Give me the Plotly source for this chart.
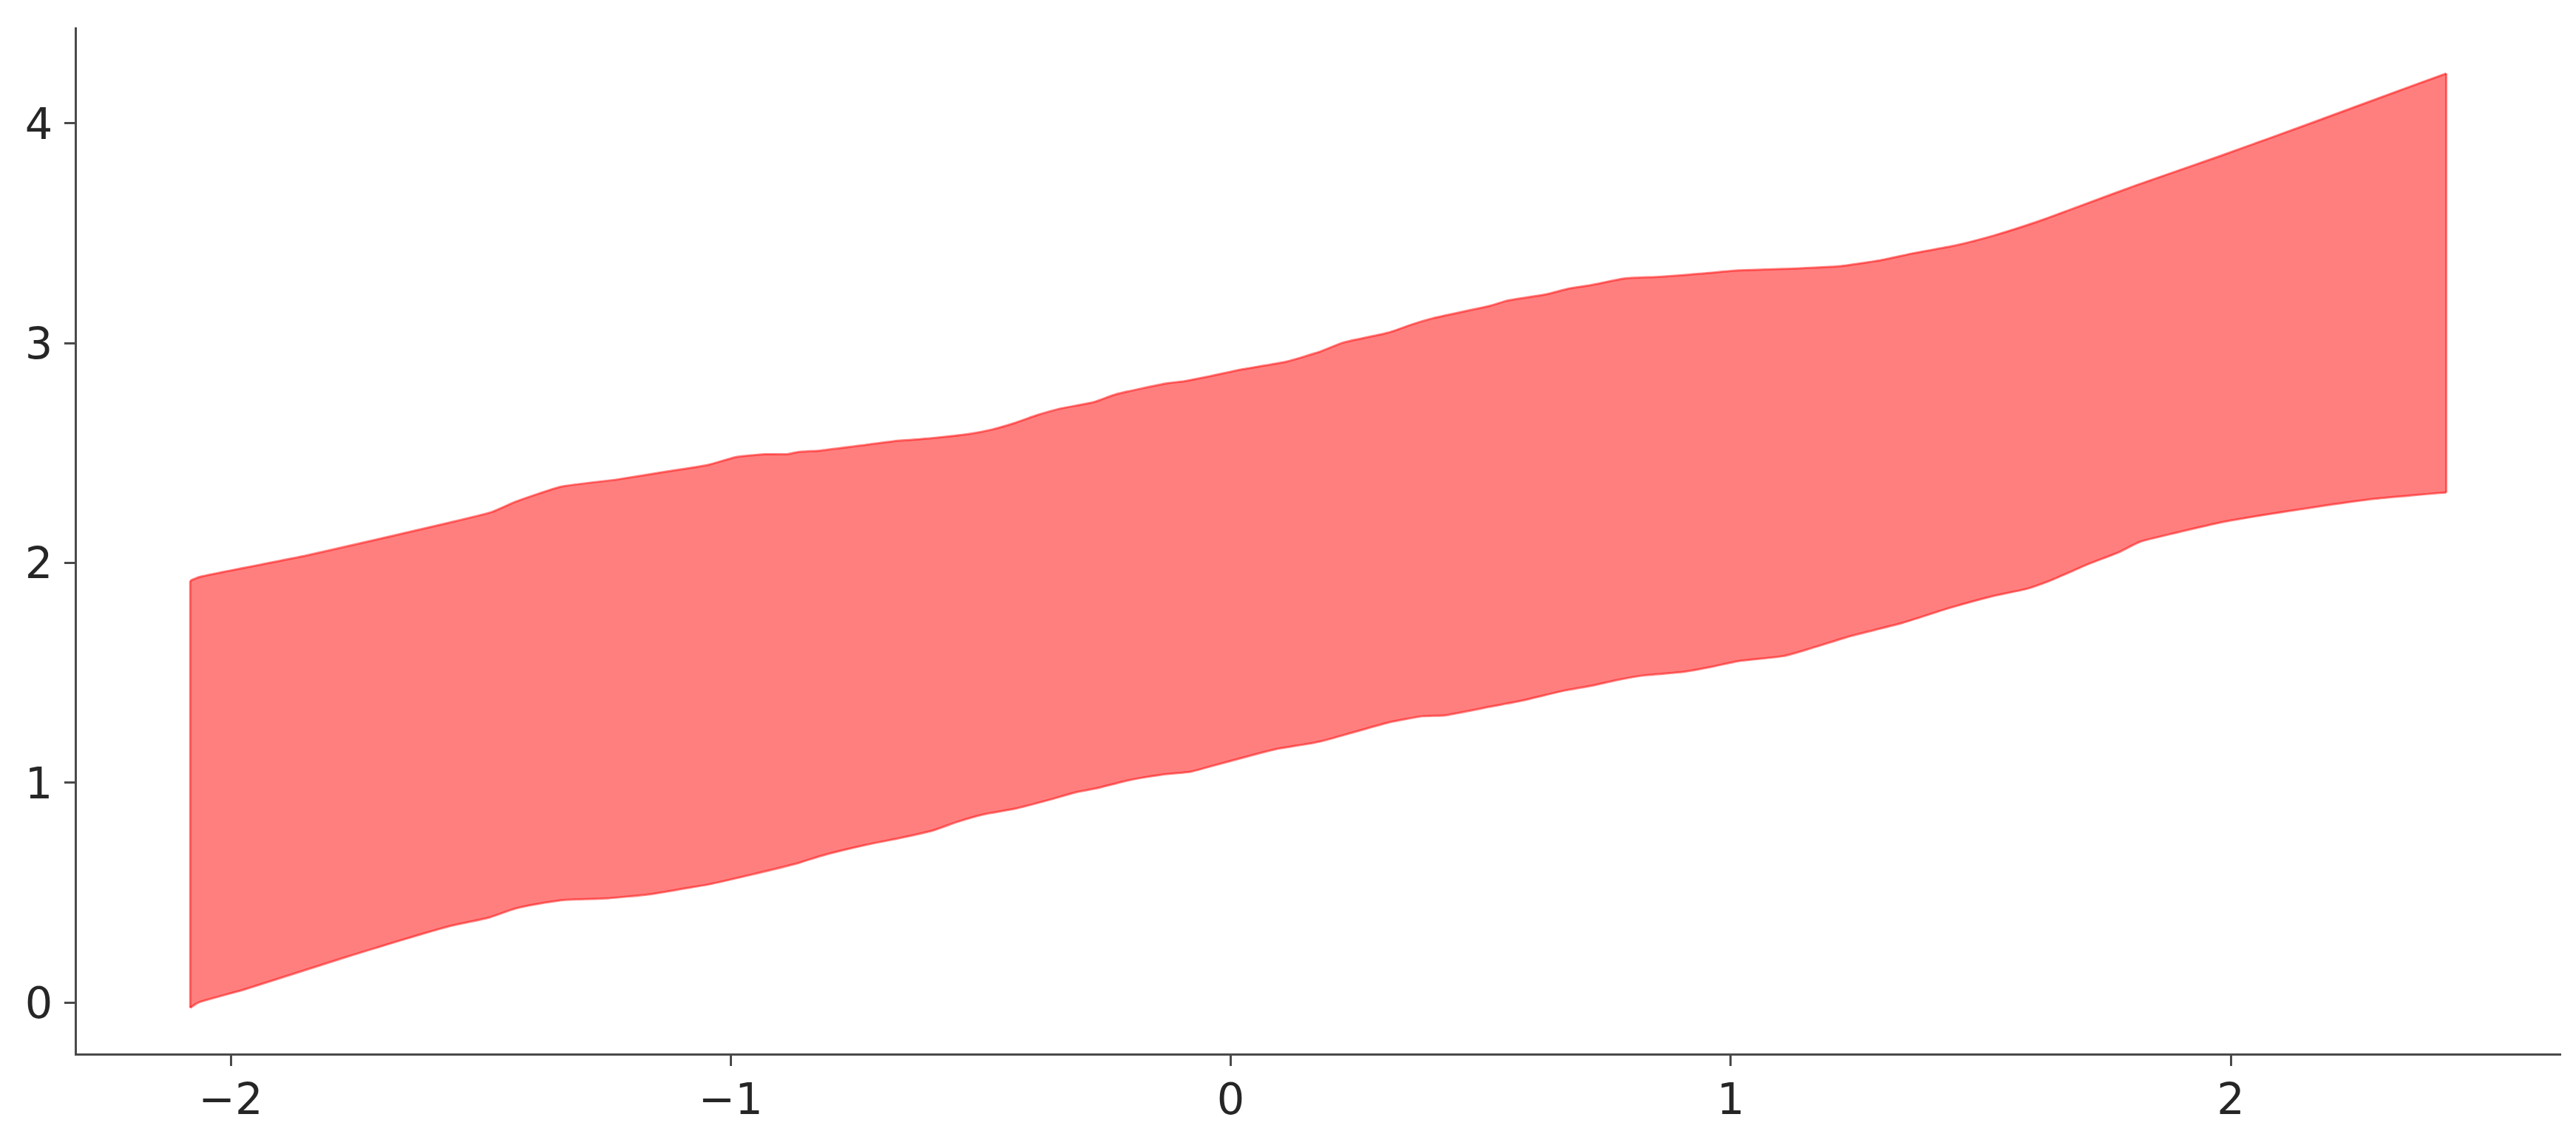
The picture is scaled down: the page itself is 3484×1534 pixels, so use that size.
import plotly.graph_objects as go

# Upper HDI boundary
x_upper = [-2.081, -2.065, -1.849, -1.566, -1.478, -1.431, -1.340, -1.227, -1.136, -1.046,
           -0.989, -0.933, -0.887, -0.865, -0.819, -0.729, -0.675, -0.602, -0.523, -0.478,
           -0.432, -0.387, -0.342, -0.274, -0.229, -0.127, -0.093, -0.048, 0.020, 0.111,
           0.179, 0.224, 0.315, 0.366, 0.405, 0.518, 0.552, 0.632, 0.677, 0.722,
           0.790, 0.858, 0.949, 1.016, 1.106, 1.220, 1.299, 1.367, 1.446, 1.525,
           1.616, 1.695, 1.808, 1.978, 2.170, 2.351, 2.431]
y_upper = [1.919, 1.935, 2.034, 2.182, 2.232, 2.278, 2.347, 2.380, 2.413, 2.446,
           2.482, 2.495, 2.495, 2.505, 2.512, 2.538, 2.554, 2.567, 2.587, 2.607,
           2.637, 2.673, 2.702, 2.732, 2.768, 2.818, 2.827, 2.847, 2.880, 2.916,
           2.962, 3.002, 3.048, 3.088, 3.114, 3.170, 3.193, 3.223, 3.249, 3.265,
           3.295, 3.302, 3.318, 3.331, 3.338, 3.351, 3.377, 3.410, 3.443, 3.489,
           3.555, 3.621, 3.716, 3.851, 4.009, 4.161, 4.227]

# Lower HDI boundary
x_lower = [-2.081, -2.065, -1.974, -1.770, -1.566, -1.482, -1.431, -1.374, -1.334, -1.250,
           -1.159, -1.091, -1.046, -0.995, -0.865, -0.819, -0.729, -0.659, -0.596, -0.546,
           -0.495, -0.432, -0.364, -0.308, -0.263, -0.206, -0.138, -0.081, -0.048, 0.043,
           0.088, 0.179, 0.247, 0.315, 0.383, 0.428, 0.518, 0.586, 0.666, 0.722,
           0.767, 0.824, 0.903, 0.960, 1.016, 1.106, 1.152, 1.242, 1.344, 1.435,
           1.525, 1.593, 1.638, 1.718, 1.774, 1.819, 1.887, 1.989, 2.170, 2.284, 2.431]
y_lower = [-0.023, 0.000, 0.059, 0.207, 0.346, 0.388, 0.428, 0.454, 0.467, 0.474,
           0.494, 0.520, 0.537, 0.563, 0.635, 0.668, 0.718, 0.750, 0.783, 0.823,
           0.856, 0.882, 0.922, 0.958, 0.978, 1.011, 1.037, 1.050, 1.070, 1.126,
           1.152, 1.188, 1.231, 1.274, 1.303, 1.307, 1.346, 1.376, 1.419, 1.442,
           1.465, 1.488, 1.504, 1.527, 1.554, 1.577, 1.606, 1.669, 1.728, 1.794,
           1.850, 1.883, 1.919, 1.998, 2.047, 2.097, 2.136, 2.189, 2.255, 2.291, 2.321]

x_ticks = [-2, -1, 0, 1, 2]
y_ticks = [0, 1, 2, 3, 4]

FILL = "rgba(255,0,0,0.5)"
EDGE = "rgba(255,0,0,0.5)"
spline = dict(shape="spline", smoothing=0.5)

fig = go.Figure()
# band fill: lower boundary then upper boundary filled to it
fig.add_trace(go.Scatter(
    x=x_lower, y=y_lower, mode="lines",
    line=dict(width=0, color=FILL, **spline),
    hoverinfo="skip", showlegend=False,
))
fig.add_trace(go.Scatter(
    x=x_upper, y=y_upper, mode="lines", fill="tonexty", fillcolor=FILL,
    line=dict(width=0, color=FILL, **spline),
    hoverinfo="skip", showlegend=False,
))
# band edges
fig.add_trace(go.Scatter(
    x=x_upper, y=y_upper, mode="lines",
    line=dict(width=3, color=EDGE, **spline),
    hoverinfo="skip", showlegend=False,
))
fig.add_trace(go.Scatter(
    x=x_lower, y=y_lower, mode="lines",
    line=dict(width=3, color=EDGE, **spline),
    hoverinfo="skip", showlegend=False,
))
fig.add_trace(go.Scatter(
    x=[x_lower[0], x_upper[0]], y=[y_lower[0], y_upper[0]], mode="lines",
    line=dict(width=3, color=EDGE),
    hoverinfo="skip", showlegend=False,
))
fig.add_trace(go.Scatter(
    x=[x_lower[-1], x_upper[-1]], y=[y_lower[-1], y_upper[-1]], mode="lines",
    line=dict(width=3, color=EDGE),
    hoverinfo="skip", showlegend=False,
))

axis_common = dict(
    showgrid=False, zeroline=False, showline=True, linewidth=3, linecolor="#4a4a4a",
    ticks="outside", ticklen=14, tickwidth=3, tickcolor="#4a4a4a",
    tickfont=dict(family="DejaVu Sans", size=59, color="#262626"),
)

fig.update_layout(
    width=3484, height=1534,
    margin=dict(l=96, r=28, t=29, b=117),
    paper_bgcolor="white", plot_bgcolor="white",
    xaxis=dict(range=[-2.3077, 2.661], tickvals=x_ticks, ticklabelstandoff=-6, **axis_common),
    yaxis=dict(range=[-0.231, 4.437], tickvals=y_ticks, ticklabelstandoff=4, **axis_common),
)

fig.write_html("out.html")
